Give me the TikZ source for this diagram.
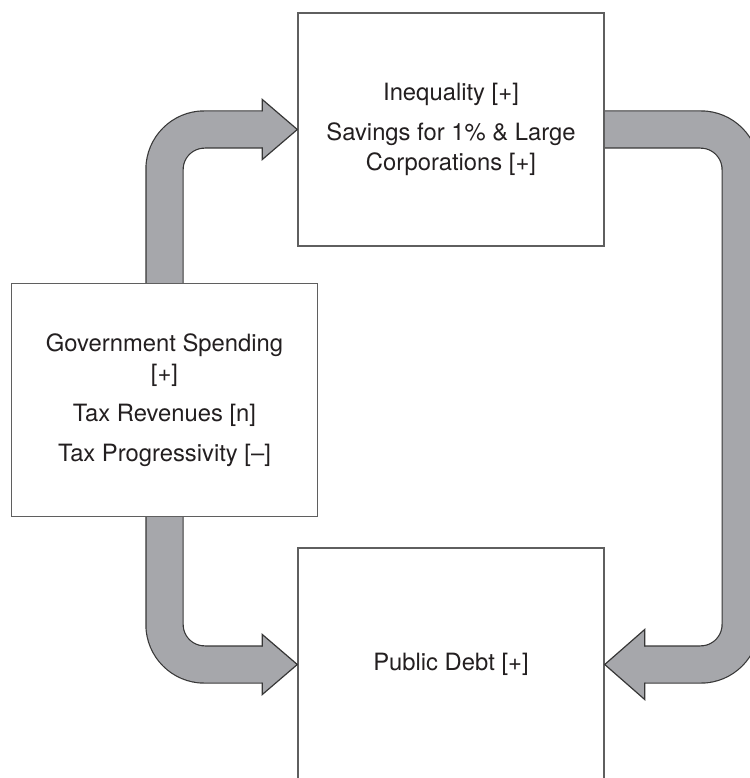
\documentclass[tikz,border=0pt]{standalone}
\usepackage{fontspec}
\setmainfont{TeX Gyre Heros}
\usetikzlibrary{calc,backgrounds}
\definecolor{arrowgray}{RGB}{166,167,171}
\definecolor{edgegray}{RGB}{55,55,55}
\definecolor{boxgray}{RGB}{95,95,95}
\definecolor{inktext}{RGB}{35,31,32}
\begin{document}
\begin{tikzpicture}[x=1pt,y=-1pt,
  box/.style={draw=boxgray,line width=1.4pt,fill=white,minimum width=306pt,minimum height=233pt,inner sep=0pt,align=center,text=inktext,font=\fontsize{23.8}{30}\selectfont},
  shaft/.style={draw=edgegray,line width=1.2pt,double=arrowgray,double distance=36pt,rounded corners=40pt},
  head/.style={fill=arrowgray,draw=edgegray,line width=1.2pt,line join=miter}]
\useasboundingbox (0,0) rectangle (749,778);
\node[box] (I) at (451,129.5) {Inequality [+]\\[10pt]Savings for 1\% \& Large\\Corporations [+]};
\node[box] (G) at (164.5,400) {Government Spending\\{[+]}\\[10pt]Tax Revenues [n]\\[10pt]Tax Progressivity [–]};
\node[box] (D) at (451,664.5) {Public Debt [+]};
\begin{scope}[on background layer]
\draw[shaft] (G.north) |- ($(I.west)+(-34,0)$);
\draw[shaft] (G.south) |- ($(D.west)+(-34,0)$);
\draw[shaft] (I.east) -- ++(136,0) |- ($(D.east)+(39,0)$);
\end{scope}
\filldraw[head] ($(I.west)+(-35,-18)$) -- ++(0,-12) -- (I.west) -- ++(-35,30) -- ++(0,-12);
\filldraw[head] ($(D.west)+(-35,-18)$) -- ++(0,-12) -- (D.west) -- ++(-35,30) -- ++(0,-12);
\filldraw[head] ($(D.east)+(40,-18)$) -- ++(0,-17) -- (D.east) -- ++(40,35) -- ++(0,-17);
\end{tikzpicture}
\end{document}
